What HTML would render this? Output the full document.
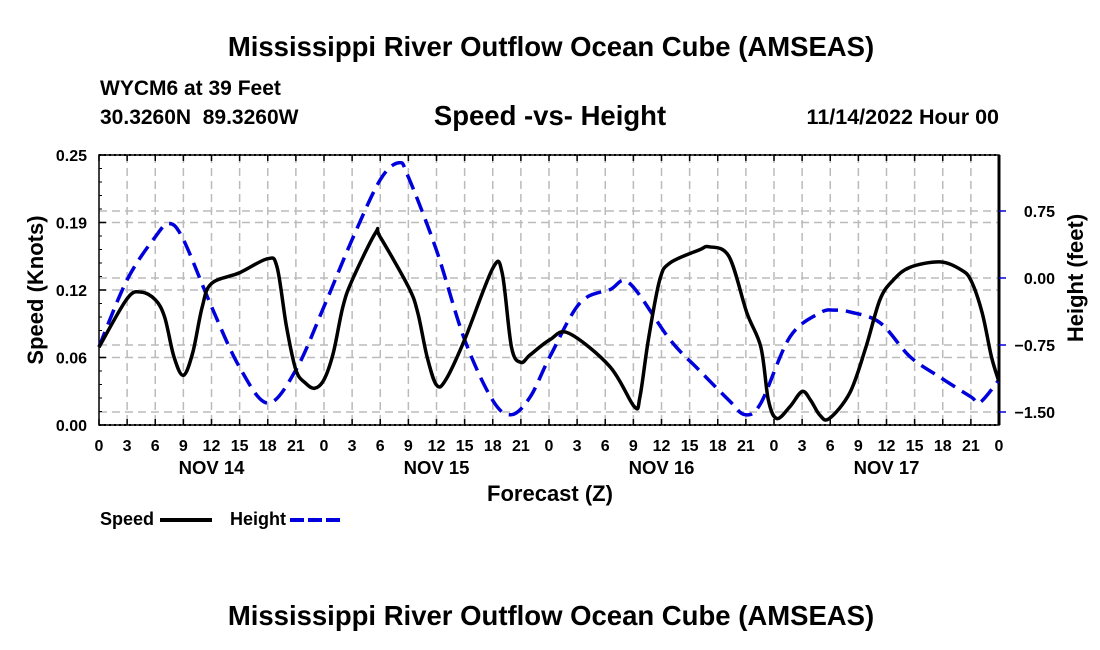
<!DOCTYPE html>
<html><head><meta charset="utf-8"><style>
body{margin:0;background:#fff;}
svg{display:block;font-family:"Liberation Sans",Arial,sans-serif;font-weight:bold;}
</style></head><body>
<svg id="chart" width="1100" height="650" viewBox="0 0 1100 650" xmlns="http://www.w3.org/2000/svg">
<rect width="1100" height="650" fill="#fff"/>
<text x="551" y="56" font-size="27.5" text-anchor="middle">Mississippi River Outflow Ocean Cube (AMSEAS)</text>
<text x="100" y="95" font-size="21">WYCM6 at 39 Feet</text>
<text x="100" y="124" font-size="21" xml:space="preserve" style="white-space:pre">30.3260N  89.3260W</text>
<text x="550" y="125" font-size="27.5" text-anchor="middle">Speed -vs- Height</text>
<text x="999" y="124" font-size="21.5" text-anchor="end">11/14/2022 Hour 00</text>
<g id="grid"></g>
<g id="axes"></g>
<g id="series"></g>
<text transform="translate(43,290) rotate(-90)" font-size="22" text-anchor="middle">Speed (Knots)</text>
<text transform="translate(1083,278) rotate(-90)" font-size="22" text-anchor="middle">Height (feet)</text>
<text x="550" y="501" font-size="22" text-anchor="middle">Forecast (Z)</text>
<g>
<text x="100" y="525" font-size="18">Speed</text>
<line x1="160" y1="520" x2="212" y2="520" stroke="#000" stroke-width="4"/>
<text x="230" y="525" font-size="18">Height</text>
<line x1="290" y1="520" x2="342" y2="520" stroke="#0000dd" stroke-width="4" stroke-dasharray="14,4"/>
</g>
<text x="551" y="625" font-size="27.5" text-anchor="middle">Mississippi River Outflow Ocean Cube (AMSEAS)</text>
</svg>
<script>
const speedHours=[0,3,4.5,6,7,8,9,10,11,12,15,18,19,20,21,22,23,24,25,26,27,29.5,30,33,34,35,36,37,39,42,43,44,45,46,48.1,50.1,54.5,57.1,57.7,58.6,59.8,60.9,64.0,65.1,67.2,69.1,70.6,71.4,72.3,73.7,75.0,75.9,76.9,77.9,80.1,81.8,83.3,84.7,86.5,89.7,91.9,93.0,94.2,95.2,96];
const speedValues=[0.072,0.117,0.123,0.116,0.10,0.063,0.046,0.067,0.109,0.131,0.141,0.154,0.146,0.091,0.051,0.039,0.034,0.042,0.067,0.109,0.134,0.178,0.174,0.128,0.104,0.063,0.037,0.042,0.079,0.145,0.141,0.072,0.058,0.065,0.079,0.085,0.054,0.017,0.026,0.079,0.134,0.15,0.162,0.165,0.156,0.104,0.072,0.023,0.006,0.017,0.031,0.023,0.009,0.006,0.030,0.072,0.116,0.134,0.146,0.151,0.144,0.134,0.104,0.063,0.04];
const heightHours=[0,3,6,7.5,9,12,15,18,21,24,27,30,32,33,36,39,42,44,46,48.1,51.3,54.5,56.6,60.9,64.0,67.2,68.9,70.6,73.7,76.9,78.5,80.1,83.3,86.5,89.7,93.0,94.0,96];
const heightValues=[-0.77,-0.02,0.46,0.61,0.43,-0.32,-1.0,-1.40,-1.03,-0.32,0.43,1.10,1.29,1.13,0.31,-0.69,-1.37,-1.53,-1.33,-0.88,-0.28,-0.13,-0.06,-0.69,-1.03,-1.37,-1.53,-1.40,-0.66,-0.39,-0.36,-0.38,-0.50,-0.88,-1.11,-1.33,-1.39,-1.14];
const xTickLabels=["0","3","6","9","12","15","18","21"];
const dayLabels=["NOV 14","NOV 15","NOV 16","NOV 17"];
const speedTicks=[0,0.0625,0.125,0.1875,0.25];
const speedTickLabels=["0.00","0.06","0.12","0.19","0.25"];
const heightTicks=[0.75,0,-0.75,-1.5];
const heightTickLabels=["0.75","0.00","\u22120.75","\u22121.50"];

const NS="http://www.w3.org/2000/svg";
const L=99,R=999,T=155,B=425;
const xs=h=>L+h*(R-L)/96;
const ys=v=>B-v*(B-T)/0.25;
const yh=v=>278-v*(67/0.75);
function mk(parent,tag,attrs){const e=document.createElementNS(NS,tag);for(const k in attrs)e.setAttribute(k,attrs[k]);parent.appendChild(e);return e;}
const grid=document.getElementById('grid'),axes=document.getElementById('axes'),series=document.getElementById('series');

for(let h=3;h<96;h+=3){
  const l=mk(grid,'line',{x1:xs(h),y1:T,x2:xs(h),y2:B,stroke:'#bbb','stroke-width':1.5,'stroke-dasharray':'8,5'});
  
  
}
speedTicks.slice(1,4).forEach(v=>{
  const l=mk(grid,'line',{x1:L,y1:ys(v),x2:R,y2:ys(v),stroke:'#bbb','stroke-width':1.5,'stroke-dasharray':'8,5'});
  
  
});
heightTicks.forEach(v=>{
  const l=mk(grid,'line',{x1:L,y1:yh(v),x2:R,y2:yh(v),stroke:'#bbb','stroke-width':1.5,'stroke-dasharray':'8,5'});
  
  
});
const fr=mk(axes,'rect',{x:L,y:T,width:R-L,height:B-T,fill:'none',stroke:'#000','stroke-width':1.5});


mk(axes,'line',{x1:R,y1:T,x2:R,y2:B,stroke:'#000','stroke-width':3});
mk(axes,'line',{x1:L,y1:T,x2:R,y2:T,stroke:'#000','stroke-width':2,'stroke-dasharray':'2,3'});
mk(axes,'line',{x1:L,y1:B,x2:R,y2:B,stroke:'#000','stroke-width':2,'stroke-dasharray':'2,3'});
for(let h=0;h<=96;h+=3){
  mk(axes,'line',{x1:xs(h),y1:B,x2:xs(h),y2:B-6,stroke:'#000','stroke-width':1.5});
  mk(axes,'line',{x1:xs(h),y1:T,x2:xs(h),y2:T+6,stroke:'#000','stroke-width':1.5});
  const t=mk(axes,'text',{x:xs(h),y:451,'font-size':16,'text-anchor':'middle'});
  
  
  t.textContent=xTickLabels[(h/3)%8];
}
dayLabels.forEach((d,i)=>{
  const t=mk(axes,'text',{x:xs(12+24*i),y:474,'font-size':18.5,'text-anchor':'middle'});
  
  
  t.textContent=d;
});
for(let v=0;v<=0.25001;v+=0.25/20){
  mk(axes,'line',{x1:L,y1:ys(v),x2:L+3,y2:ys(v),stroke:'#000','stroke-width':1});
}
speedTicks.forEach((v,i)=>{
  mk(axes,'line',{x1:L,y1:ys(v),x2:L+7,y2:ys(v),stroke:'#000','stroke-width':1.5});
  const t=mk(axes,'text',{x:87,y:ys(v)+6,'font-size':16,'text-anchor':'end'});
  
  
  t.textContent=speedTickLabels[i];
});
heightTicks.forEach((v,i)=>{
  mk(axes,'line',{x1:R,y1:yh(v),x2:R+7,y2:yh(v),stroke:'#0000dd','stroke-width':1.5});
  const t=mk(axes,'text',{x:1055,y:yh(v)+6,'font-size':16,'text-anchor':'end'});
  
  
  t.textContent=heightTickLabels[i];
});
function smooth(pts){
  let d='M'+pts[0][0]+','+pts[0][1];
  for(let i=0;i<pts.length-1;i++){
    const p0=pts[i-1]||pts[i],p1=pts[i],p2=pts[i+1],p3=pts[i+2]||p2;
    const c1=[p1[0]+(p2[0]-p0[0])/6,p1[1]+(p2[1]-p0[1])/6];
    const c2=[p2[0]-(p3[0]-p1[0])/6,p2[1]-(p3[1]-p1[1])/6];
    d+=' C'+c1[0]+','+c1[1]+' '+c2[0]+','+c2[1]+' '+p2[0]+','+p2[1];
  }
  return d;
}
const hp=mk(series,'path',{d:smooth(heightHours.map((h,i)=>[xs(h),yh(heightValues[i])])),fill:'none',stroke:'#0000dd','stroke-width':3.5,'stroke-dasharray':'16,8'});


const sp=mk(series,'path',{d:smooth(speedHours.map((h,i)=>[xs(h),ys(speedValues[i])])),fill:'none',stroke:'#000','stroke-width':3.5});


</script>
</body></html>
